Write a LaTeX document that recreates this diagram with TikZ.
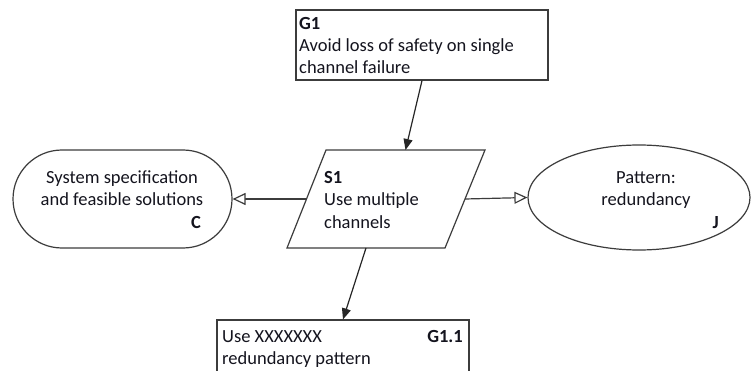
\documentclass[tikz,border=0pt]{standalone}
\usepackage{fontspec}
\setmainfont{Carlito}
\usetikzlibrary{shapes.geometric,arrows.meta,calc}
\definecolor{ln}{RGB}{60,60,60}
\definecolor{tx}{RGB}{20,20,30}
\tikzset{
  shp/.style={draw=ln, line width=1.2pt, inner sep=0pt, fill=white},
  boxshape/.style={shp, rectangle},
  txt/.style={inner sep=0pt, text=tx, font=\fontsize{18.5pt}{22pt}\selectfont},
  btxt/.style={txt, font=\fontsize{18.5pt}{22pt}\selectfont\bfseries},
  solidarrow/.style={draw=black!85, line width=1.2pt, -{Triangle[length=11pt,width=9pt]}},
  openarrow/.style={draw=ln, line width=1.2pt, -{Triangle[open,length=13pt,width=12pt,fill=white]}},
}
\begin{document}
\begin{tikzpicture}[x=1pt,y=-1pt]
\clip (0,0) rectangle (751,371);
\fill[white] (0,0) rectangle (751,371);
% shapes
\node[boxshape, minimum width=252pt, minimum height=70pt] (g1) at (422,45) {};
\coordinate (s1bl) at (287,248);
\coordinate (s1br) at (445,248);
\coordinate (s1tr) at (485,150);
\coordinate (s1tl) at (326,150);
\draw[shp] (s1bl) -- (s1br) -- (s1tr) -- (s1tl) -- cycle;
\coordinate (s1top) at ($(s1tl)!0.5!(s1tr)$);
\coordinate (s1bot) at ($(s1bl)!0.5!(s1br)$);
\coordinate (s1left) at ($(s1bl)!0.5!(s1tl)$);
\coordinate (s1right) at ($(s1br)!0.5!(s1tr)$);
\node[shp, rectangle, rounded corners=49pt, minimum width=219pt, minimum height=98pt] (c) at (122.5,199) {};
\node[shp, ellipse, minimum width=222pt, minimum height=105pt] (j) at (639,197.5) {};
\node[boxshape, minimum width=252pt, minimum height=80pt] (g11) at (343,360) {};
% texts
\node[btxt, anchor=base west] (g1a) at (299,30) {G1};
\node[txt, anchor=base west] (g1b) at (299,52) {Avoid loss of safety on single};
\node[txt, anchor=base west] (g1c) at (299,74) {channel failure};
\node[btxt, anchor=base west] (s1a) at (324,184) {S1};
\node[txt, anchor=base west] (s1b) at (324,206) {Use multiple};
\node[txt, anchor=base west] (s1c) at (324,228) {channels};
\node[txt, anchor=base] (ca) at (122,184) {System specification};
\node[txt, anchor=base] (cb) at (122,206) {and feasible solutions};
\node[btxt, anchor=base east] (cc) at (201,228) {C};
\node[txt, anchor=base] (ja) at (646,184) {Pattern:};
\node[txt, anchor=base] (jb) at (646,206) {redundancy};
\node[btxt, anchor=base east] (jc) at (719,228) {J};
\node[txt, anchor=base west] (g11a) at (222,342) {Use XXXXXXX};
\node[btxt, anchor=base east] (g11b) at (463,342) {G1.1};
\node[txt, anchor=base west] (g11c) at (222,364) {redundancy pattern};
% connectors
\draw[solidarrow] (g1.south) -- (s1top);
\draw[solidarrow] (s1bot) -- (g11.north);
\draw[openarrow] (s1left) -- (c.east);
\draw[openarrow] (s1right) -- (j.west);
\end{tikzpicture}
\end{document}
